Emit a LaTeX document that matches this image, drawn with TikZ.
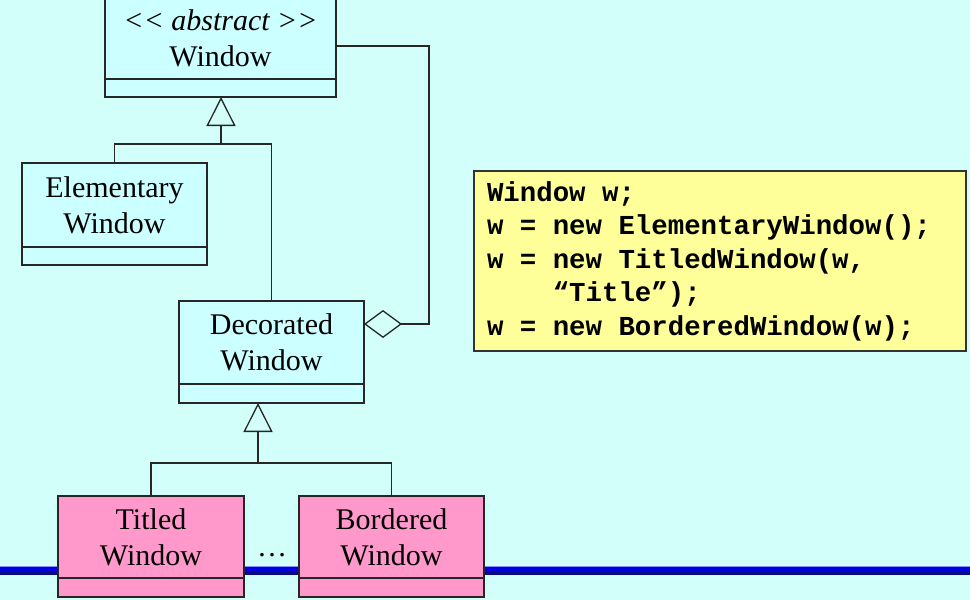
\documentclass[tikz,border=0pt]{standalone}
\usepackage{fontspec}
\setmainfont{Liberation Serif}
\newfontfamily\codefont{Liberation Mono}
\usetikzlibrary{positioning,arrows.meta}
\definecolor{bgcyan}{RGB}{210,255,250}
\definecolor{boxcyan}{RGB}{204,255,255}
\definecolor{boxpink}{RGB}{255,153,204}
\definecolor{codeyellow}{RGB}{255,255,153}
\definecolor{rulenavy}{RGB}{10,10,130}
\definecolor{ruleblue}{RGB}{0,0,225}
\def\msp{\hspace*{0.6em}}
\tikzset{
  klass/.style={
    rectangle,
    draw=black!85, line width=1.3pt,
    fill=boxcyan,
    minimum width=185pt,
    minimum height=84pt,
    inner sep=0pt, outer sep=0pt,
    align=center,
    font=\fontsize{30}{36}\selectfont},
  klassfoot/.style={
    rectangle,
    draw=black!85, line width=1.3pt,
    fill=boxcyan,
    minimum width=185pt,
    minimum height=18pt,
    inner sep=0pt, outer sep=0pt},
  concrete/.style={fill=boxpink},
  assoc/.style={draw=black!85, line width=1.3pt},
  gen/.style={assoc, -{Triangle[open, length=29pt, width=29pt]}},
  aggr/.style={assoc, -{Diamond[open, length=38pt, width=28pt]}},
  codebox/.style={
    rectangle,
    draw=black!80, line width=2pt,
    fill=codeyellow,
    minimum width=492pt,
    minimum height=180pt,
    text width=466pt,
    align=left,
    font=\fontsize{27.4}{33.5}\selectfont\codefont\bfseries},
}

\begin{document}
\begin{tikzpicture}[x=1pt,y=-1pt]
    \fill[bgcyan] (0,0) rectangle (970,600);
    \useasboundingbox (0,0) rectangle (970,600);
    % blue rule behind the lower classes
    \fill[ruleblue] (0,566) rectangle (970,575);
    \fill[rulenavy] (0,572) rectangle (970,575);
    \draw[blue!45!white, line width=1pt] (0,566.5) -- (970,566.5);

    \node[klass, minimum width=231pt, minimum height=82pt] (win) at (220.5,38)
        {\textit{{<}{<} abstract {>}{>}}\\Window};
    \node[klassfoot, minimum width=231pt, below=0pt of win] (winf) {};

    \node[klass] (elem) at (114.5,205) {Elementary\\Window};
    \node[klassfoot, below=0pt of elem] (elemf) {};

    \node[klass, minimum height=83pt] (dec) at (271.5,342.5) {Decorated\\Window};
    \node[klassfoot, minimum height=19pt, below=0pt of dec] (decf) {};

    \node[klass, concrete, minimum width=186pt, minimum height=82pt] (titled) at (151,537) {Titled\\Window};
    \node[klassfoot, concrete, minimum width=186pt, minimum height=19pt, below=0pt of titled] (titledf) {};

    \node[klass, concrete, minimum height=82pt] (bordered) at (391.5,537) {Bordered\\Window};
    \node[klassfoot, concrete, minimum height=19pt, below=0pt of bordered] (borderedf) {};

    \node[font=\fontsize{30}{36}\selectfont] (dots) at (272,555) {\dots};

    % generalisation
    \coordinate (j1) at (221,144);
    \draw[gen] (j1) -- (j1 |- winf.south);
    \draw[assoc] (elem.north) |- (j1) -| (dec.north);

    \coordinate (j2) at (258,463);
    \draw[gen] (j2) -- (j2 |- decf.south);
    \draw[assoc] (titled.north) |- (j2) -| (bordered.north);

    % aggregation
    \coordinate (aggtop) at (429,46);
    \coordinate (aggbot) at (429,324);
    \draw[aggr] (win.east |- aggtop) -- (aggtop) -- (aggbot) -- (dec.east |- aggbot);

    \node[codebox] (code) at (720,261)
        {Window\msp w;\\
         w\msp=\msp new\msp ElementaryWindow();\\
         w\msp=\msp new\msp TitledWindow(w,\\
         \msp\msp\msp\msp“Title”);\\
         w\msp=\msp new\msp BorderedWindow(w);};
\end{tikzpicture}
\end{document}
